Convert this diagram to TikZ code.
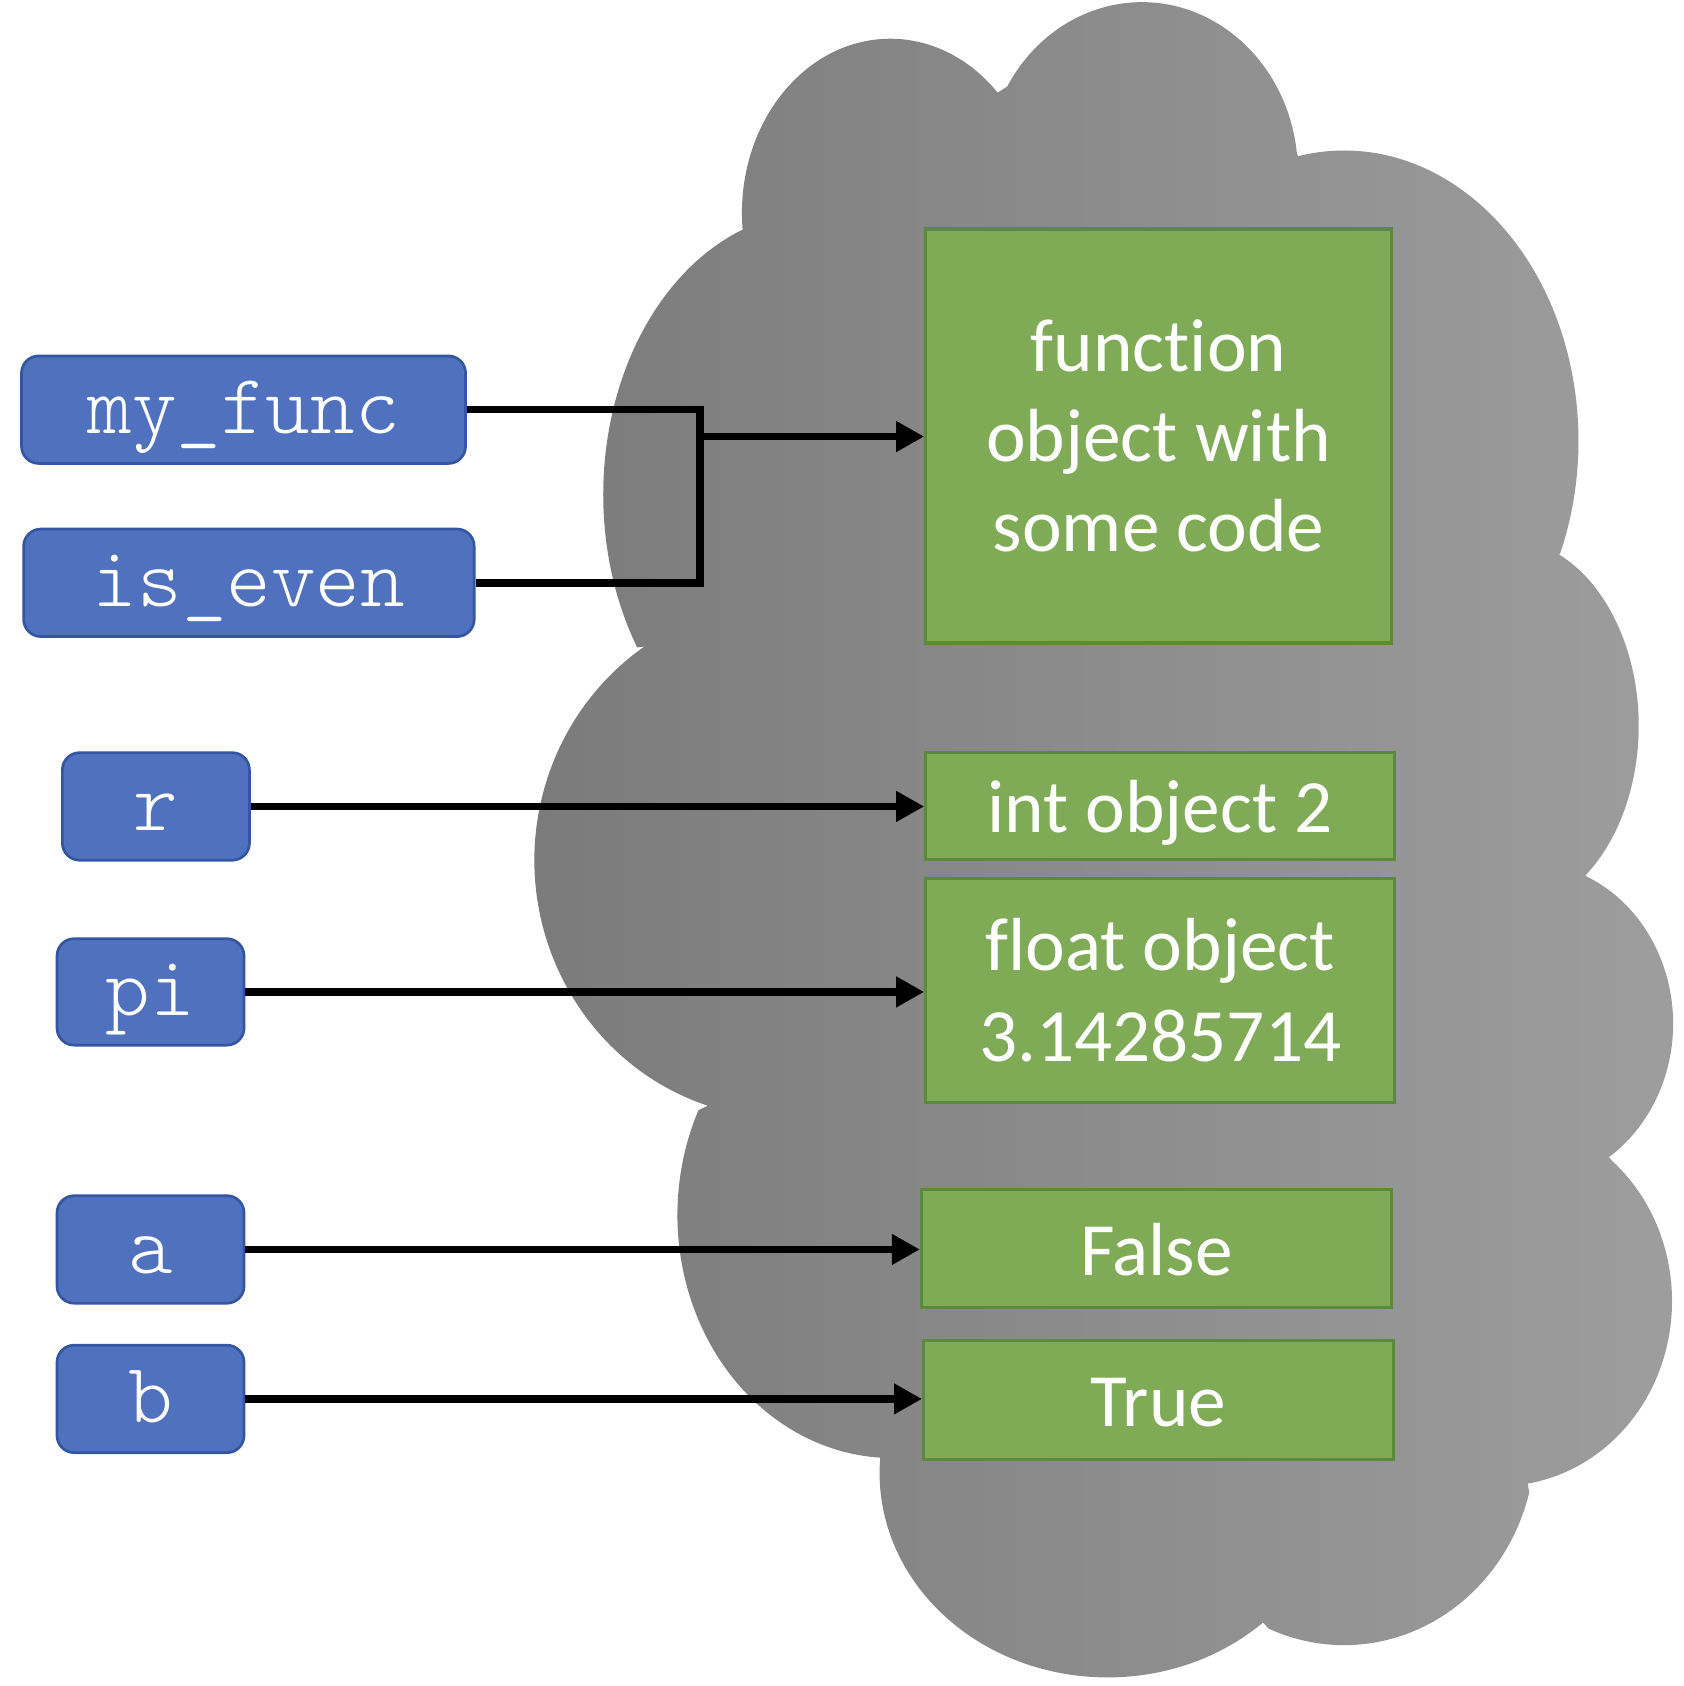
\documentclass[tikz,border=0pt]{standalone}
\usepackage{fontspec}
\newfontfamily\calibri[Ligatures=NoCommon]{Carlito}
\newfontfamily\monolight{Latin Modern Mono Light}
\usetikzlibrary{arrows.meta}
\definecolor{cloudL}{RGB}{122,122,122}
\definecolor{cloudR}{RGB}{158,158,158}
\definecolor{vfill}{RGB}{79,113,190}
\definecolor{vline}{RGB}{52,86,160}
\definecolor{ofill}{RGB}{127,170,86}
\definecolor{oline}{RGB}{92,138,60}
\tikzset{
  varbox/.style={draw=vline, fill=vfill, line width=2.5pt, rounded corners=16pt,
    inner sep=0pt, text=white, text height=50pt, text depth=6pt,
    font=\fontsize{79}{90}\selectfont\monolight},
  objbox/.style={draw=oline, fill=ofill, line width=3pt, inner sep=0pt,
    text=white, align=center, font=\fontsize{70}{84}\selectfont\calibri},
  oneline/.style={text height=56pt, text depth=6pt},
  conn/.style={line width=7pt, black, line join=miter},
  arr/.style={conn, -{Triangle[length=26pt,width=27pt]}}
}
\begin{document}
\begin{tikzpicture}[x=1pt,y=-1pt]
\useasboundingbox (0,0) rectangle (1566,1568);
% cloud: one closed outline of elliptical bumps
\shade[left color=cloudL, right color=cloudR]
  ([shift={(828,198)}]174.3:138 and 162) arc[start angle=174.3, end angle=316.3, x radius=138, y radius=162]
  -- ([shift={(1062,160)}]210.2:145 and 158) arc[start angle=210.2, end angle=353.8, x radius=145, y radius=158]
  -- ([shift={(1250,410)}]258.7:218 and 270) arc[start angle=258.7, end angle=383.0, x radius=218, y radius=270]
  -- ([shift={(1400,675)}]286.8:124 and 174) arc[start angle=286.8, end angle=413.1, x radius=124, y radius=174]
  -- ([shift={(1420,952)}]293.9:136 and 150) arc[start angle=293.9, end angle=415.9, x radius=136, y radius=150]
  -- ([shift={(1395,1210)}]310.9:160 and 172) arc[start angle=310.9, end angle=440.7, x radius=160, y radius=172]
  -- ([shift={(1250,1340)}]14.7:178 and 190) arc[start angle=14.7, end angle=113.2, x radius=178, y radius=190]
  -- ([shift={(1030,1370)}]47.0:212 and 190) arc[start angle=47.0, end angle=184.3, x radius=212, y radius=190]
  -- ([shift={(830,1130)}]93.1:200 and 226) arc[start angle=93.1, end angle=205.6, x radius=200, y radius=226]
  -- ([shift={(730,800)}]107.9:233 and 240) arc[start angle=107.9, end angle=235.9, x radius=233, y radius=240]
  -- ([shift={(760,460)}]147.3:199 and 263) arc[start angle=147.3, end angle=249.4, x radius=199, y radius=263]
  -- cycle;
% object boxes
\node[objbox, minimum width=433pt, minimum height=385pt] (func) at (1077.5,405.5) {function\\object with\\some code};
\node[objbox, oneline, minimum width=436pt, minimum height=99pt] (int) at (1079,749.5) {int object 2};
\node[objbox, minimum width=436pt, minimum height=208pt] (float) at (1079,921) {float object\\3.14285714};
\node[objbox, oneline, minimum width=437pt, minimum height=110pt] (false) at (1075.5,1161) {False};
\node[objbox, oneline, minimum width=437pt, minimum height=110pt] (true) at (1077.5,1302) {True};
% variable boxes
\node[varbox, minimum width=413pt, minimum height=100pt] (myfunc) at (226.5,381) {my\_func};
\node[varbox, minimum width=419pt, minimum height=100pt] (iseven) at (231.5,542) {is\_even};
\node[varbox, minimum width=174pt, minimum height=100pt] (r) at (145,750) {r};
\node[varbox, minimum width=174pt, minimum height=99pt] (pi) at (140,922.5) {pi};
\node[varbox, minimum width=174pt, minimum height=100pt] (a) at (140,1162) {a};
\node[varbox, minimum width=174pt, minimum height=100pt] (b) at (140,1301) {b};
% connectors
\coordinate (jx) at (651,406);
\draw[conn] (myfunc.east) -| (jx) |- (iseven.east);
\draw[arr] (jx) -- (func.west |- jx);
\draw[arr] (r.east) -- (r.east -| int.west);
\draw[arr] (pi.east) -- (pi.east -| float.west);
\draw[arr] (a.east) -- (a.east -| false.west);
\draw[arr] (b.east) -- (b.east -| true.west);
\end{tikzpicture}
\end{document}
